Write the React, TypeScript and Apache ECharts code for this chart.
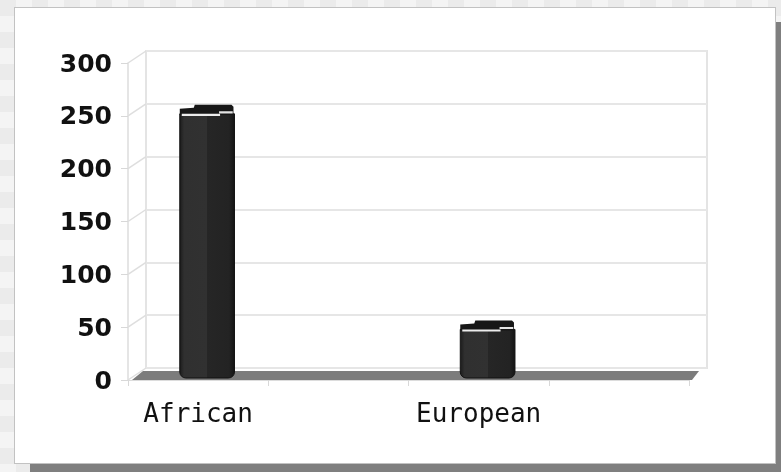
import React, { useEffect, useRef } from "react";
import * as echarts from "echarts";

const categories = ["African", "", "European", ""];
const values: (number | null)[] = [250, null, 46, null];
const yTicks = [0, 50, 100, 150, 200, 250, 300];

const DX = 18;
const DY = -12;

export default function App() {
  const ref = useRef<HTMLDivElement>(null);

  useEffect(() => {
    const chart = echarts.init(ref.current!, null, { renderer: "svg" });

    const option: any = {
      animation: false,
      grid: [
        { left: 128, top: 63, width: 561, height: 317 },
        {
          left: 128 + DX,
          top: 63 + DY,
          width: 561,
          height: 317,
          show: true,
          borderColor: "#e4e4e4",
          borderWidth: 2,
          backgroundColor: "transparent",
        },
      ],
      xAxis: [
        {
          type: "category",
          gridIndex: 0,
          data: categories,
          boundaryGap: true,
          axisLine: { show: true, lineStyle: { color: "#dcdcdc", width: 1 } },
          axisTick: { show: true, length: 6, lineStyle: { color: "#d8d8d8" } },
          axisLabel: {
            fontFamily: "DejaVu Sans Mono",
            fontSize: 26,
            color: "#111",
            margin: 20,
            interval: 0,
          },
          splitLine: { show: false },
        },
        {
          type: "category",
          gridIndex: 1,
          data: categories,
          show: false,
        },
      ],
      yAxis: [
        {
          type: "value",
          gridIndex: 0,
          min: 0,
          max: 300,
          interval: 50,
          axisLine: { show: true, lineStyle: { color: "#dcdcdc", width: 1.5 } },
          axisTick: { show: true, length: 7, lineStyle: { color: "#d8d8d8" } },
          axisLabel: {
            fontFamily: "DejaVu Sans",
            fontWeight: "bold",
            fontSize: 25,
            color: "#111",
            margin: 16,
          },
          splitLine: { show: false },
        },
        {
          type: "value",
          gridIndex: 1,
          min: 0,
          max: 300,
          interval: 50,
          axisLine: { show: false },
          axisTick: { show: false },
          axisLabel: { show: false },
          splitLine: { show: true, lineStyle: { color: "#e6e6e6", width: 2 } },
        },
      ],
      series: [
        {
          type: "custom",
          name: "side",
          xAxisIndex: 0,
          yAxisIndex: 0,
          z: 1,
          data: yTicks.map((v) => [0, v]),
          renderItem: (params: any, api: any) => {
            const c = api.coord([0, api.value(1)]);
            const x0 = params.coordSys.x;
            return {
              type: "line",
              shape: { x1: x0, y1: c[1], x2: x0 + DX, y2: c[1] + DY },
              style: { stroke: "#dedede", lineWidth: 1.5 },
            };
          },
        },
        {
          type: "custom",
          name: "floor",
          xAxisIndex: 0,
          yAxisIndex: 0,
          z: 2,
          data: [[0, 0]],
          renderItem: (params: any, api: any) => {
            const cs = params.coordSys;
            const x0 = cs.x;
            const x1 = cs.x + cs.width;
            const yb = api.coord([0, 0])[1];
            return {
              type: "polygon",
              shape: {
                points: [
                  [x0 + 4, yb],
                  [x1 + 3, yb],
                  [x1 + 10, yb - 9],
                  [x0 + 15, yb - 9],
                ],
              },
              style: { fill: "#7c7c7c" },
            };
          },
        },
        {
          type: "custom",
          name: "bars",
          xAxisIndex: 0,
          yAxisIndex: 0,
          z: 3,
          data: values
            .map((v, i) => (v == null ? null : [i, v]))
            .filter((d) => d != null),
          renderItem: (params: any, api: any) => {
            const i = api.value(0);
            const v = api.value(1);
            const base = api.coord([i, 0]);
            const top = api.coord([i, v]);
            const bw = api.size([1, 0])[0] * 0.39;
            const rx = bw / 2;
            const cx = base[0] + DX / 2;
            const yb = base[1] + DY / 2 + 4;
            const tc = top[1] + DY / 2;
            const grad = new echarts.graphic.LinearGradient(0, 0, 1, 0, [
              { offset: 0, color: "#1c1c1c" },
              { offset: 0.08, color: "#303030" },
              { offset: 0.5, color: "#313131" },
              { offset: 0.5, color: "#262626" },
              { offset: 0.9, color: "#232323" },
              { offset: 1, color: "#141414" },
            ]);
            return {
              type: "group",
              children: [
                {
                  type: "rect",
                  shape: { x: cx - rx, y: tc + 4, width: bw, height: yb - tc - 4, r: [0, 0, 6, 6] },
                  style: { fill: grad, stroke: "#111", lineWidth: 1 },
                },
                {
                  type: "polygon",
                  shape: {
                    points: [
                      [cx - rx, tc + 5],
                      [cx - rx, tc - 1],
                      [cx - rx + 14, tc - 2],
                      [cx - rx + 15, tc - 5],
                      [cx + rx - 3, tc - 5],
                      [cx + rx - 1, tc - 3],
                      [cx + rx - 1, tc + 5],
                    ],
                  },
                  style: { fill: "#171717" },
                },
                {
                  type: "rect",
                  shape: { x: cx - rx + 2, y: tc + 4, width: bw * 0.7, height: 2.2 },
                  style: { fill: "#ececec" },
                },
                {
                  type: "rect",
                  shape: { x: cx - rx + 2 + bw * 0.7 - 1, y: tc + 1.5, width: bw * 0.25, height: 2.2 },
                  style: { fill: "#e4e4e4" },
                },
              ],
            };
          },
        },
      ],
    };

    chart.setOption(option);
    return () => chart.dispose();
  }, []);

  return (
    <div
      style={{
        position: "fixed",
        left: 0,
        top: 0,
        width: 781,
        height: 472,
        overflow: "hidden",
        background: "repeating-conic-gradient(#f4f4f4 0 25%, #ebebeb 0 50%) 0 0 / 32px 32px",
      }}
    >
      <div
        style={{
          position: "absolute",
          left: 14,
          top: 7,
          width: 762,
          height: 457,
          boxSizing: "border-box",
          background: "#fff",
          border: "1px solid #c2c2c2",
          boxShadow: "16px 15px 0 #7f7f7f",
        }}
      />
      <div ref={ref} style={{ position: "absolute", left: 0, top: 0, width: 781, height: 472 }} />
    </div>
  );
}
